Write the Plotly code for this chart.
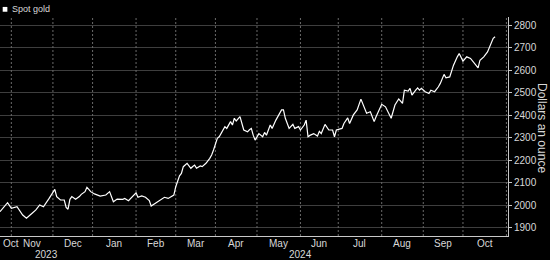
import pandas as pd
import plotly.graph_objects as go

# ---- data (spot gold, USD/oz) ----
dates = [
    "2023-10-24", "2023-10-30", "2023-11-01", "2023-11-03", "2023-11-06", "2023-11-09", "2023-11-13",
    "2023-11-16", "2023-11-20", "2023-11-22", "2023-11-24", "2023-11-29", "2023-11-30",
    "2023-12-01", "2023-12-04", "2023-12-05", "2023-12-07", "2023-12-11", "2023-12-12", "2023-12-13",
    "2023-12-14", "2023-12-15", "2023-12-19", "2023-12-21", "2023-12-22", "2023-12-26", "2023-12-27",
    "2023-12-28", "2023-12-29",
    "2024-01-02", "2024-01-05", "2024-01-10", "2024-01-12", "2024-01-16", "2024-01-18", "2024-01-23",
    "2024-01-24", "2024-01-26", "2024-01-30",
    "2024-02-01", "2024-02-02", "2024-02-06", "2024-02-08", "2024-02-12", "2024-02-13", "2024-02-15",
    "2024-02-20", "2024-02-22", "2024-02-26", "2024-02-29",
    "2024-03-01", "2024-03-04", "2024-03-05", "2024-03-06", "2024-03-07", "2024-03-11", "2024-03-13",
    "2024-03-14", "2024-03-15", "2024-03-18", "2024-03-20", "2024-03-21", "2024-03-25", "2024-03-27",
    "2024-03-28", "2024-03-29",
    "2024-04-02", "2024-04-03", "2024-04-04", "2024-04-05", "2024-04-08", "2024-04-09", "2024-04-11",
    "2024-04-12", "2024-04-15", "2024-04-16", "2024-04-18", "2024-04-22", "2024-04-24", "2024-04-25",
    "2024-04-26", "2024-04-29", "2024-04-30",
    "2024-05-02", "2024-05-06", "2024-05-07", "2024-05-08", "2024-05-10", "2024-05-13", "2024-05-15",
    "2024-05-16", "2024-05-20", "2024-05-21", "2024-05-22", "2024-05-24", "2024-05-28", "2024-05-29",
    "2024-05-31",
    "2024-06-03", "2024-06-05", "2024-06-06", "2024-06-07", "2024-06-10", "2024-06-12", "2024-06-14",
    "2024-06-17", "2024-06-18", "2024-06-20", "2024-06-24", "2024-06-26", "2024-06-27", "2024-06-28",
    "2024-07-03", "2024-07-04", "2024-07-08", "2024-07-09", "2024-07-11", "2024-07-15", "2024-07-17",
    "2024-07-18", "2024-07-22", "2024-07-24", "2024-07-26", "2024-07-29", "2024-07-31",
    "2024-08-01", "2024-08-05", "2024-08-07", "2024-08-08", "2024-08-12", "2024-08-14", "2024-08-15",
    "2024-08-16", "2024-08-19", "2024-08-21", "2024-08-22", "2024-08-23", "2024-08-27", "2024-08-28",
    "2024-08-29", "2024-08-30",
    "2024-09-03", "2024-09-05", "2024-09-06", "2024-09-10", "2024-09-12", "2024-09-13", "2024-09-17",
    "2024-09-18", "2024-09-20", "2024-09-24", "2024-09-26", "2024-09-27",
    "2024-10-01", "2024-10-03", "2024-10-07", "2024-10-09", "2024-10-11", "2024-10-14", "2024-10-16",
    "2024-10-18", "2024-10-22", "2024-10-23", "2024-10-24",
]
prices = [
    1971, 2011, 1986, 1991, 1993, 1956, 1942,
    1964, 1979, 2001, 1993, 2030, 2045,
    2060, 2070, 2038, 2023, 2023, 1990, 1982,
    2026, 2038, 2026, 2038, 2048, 2060, 2079,
    2070, 2060,
    2050, 2040, 2045, 2060, 2015, 2027, 2026,
    2030, 2020, 2038,
    2055, 2035, 2041, 2035, 2020, 1996, 2008,
    2023, 2035, 2030, 2045,
    2082, 2112, 2130, 2141, 2171, 2186, 2164,
    2172, 2178, 2164, 2174, 2171, 2186, 2208,
    2223, 2245,
    2297, 2304, 2320, 2334, 2349, 2341, 2371,
    2356, 2386, 2374, 2393, 2334, 2326, 2335,
    2341, 2311, 2289,
    2318, 2304, 2323, 2311, 2356, 2341, 2378,
    2393, 2423, 2423, 2386, 2341, 2359, 2341,
    2349,
    2334, 2356, 2378, 2304, 2310, 2318, 2307,
    2328, 2318, 2359, 2334, 2334, 2304, 2334,
    2341, 2363, 2388, 2363, 2401, 2423, 2471,
    2452, 2408, 2415, 2371, 2393, 2430,
    2448, 2437, 2401, 2386, 2445, 2472, 2462,
    2452, 2511, 2507, 2519, 2489, 2511, 2521,
    2511, 2519,
    2504, 2496, 2511, 2504, 2526, 2541, 2581,
    2566, 2570, 2622, 2659, 2674,
    2640, 2659, 2652, 2630, 2610, 2644, 2659,
    2681, 2718, 2741, 2748,
]
assert len(dates) == len(prices)

series_name = "Spot gold"
y_title = "Dollars an ounce"
y_ticks = [1900, 2000, 2100, 2200, 2300, 2400, 2500, 2600, 2700, 2800]
month_labels = ["Oct", "Nov", "Dec", "Jan", "Feb", "Mar", "Apr", "May", "Jun", "Jul", "Aug", "Sep", "Oct"]
month_starts = ["2023-10-01", "2023-11-01", "2023-12-01", "2024-01-01", "2024-02-01", "2024-03-01",
                "2024-04-01", "2024-05-01", "2024-06-01", "2024-07-01", "2024-08-01", "2024-09-01",
                "2024-10-01", "2024-11-01"]
year_labels = ["2023", "2024"]

x_start = pd.Timestamp("2023-10-24")
x_end = pd.Timestamp("2024-11-01 20:00")
y_range = [1863, 2836]

FONT = "Liberation Sans, Arial, sans-serif"
TXT = "#d8d8d8"
AXIS = "#c8c8c8"
HGRID = "#3e3e3e"
VGRID = "#6a6a6a"

PLOT_H = 260 - 17 - 24          # plot height in px
UNITS_PER_PX = (y_range[1] - y_range[0]) / PLOT_H


def visible_center(a, b):
    """centre (in trading-day space) of the visible weekdays in [a, b)"""
    a = max(pd.Timestamp(a), x_start)
    b = min(pd.Timestamp(b), x_end)
    days = pd.bdate_range(a.normalize(), (b - pd.Timedelta(seconds=1)).normalize())
    days = [d for d in days if d >= a.normalize()]
    n = len(days)
    c = days[n // 2]
    if n % 2 == 1:
        c = c + pd.Timedelta(hours=12)
    return c


first_bday = [pd.bdate_range(pd.Timestamp(m), periods=1)[0] for m in month_starts]
label_pos = [visible_center(month_starts[i], month_starts[i + 1]) for i in range(len(month_labels))]
grid_pos = [d for d in first_bday if x_start < d < x_end]
year_pos = [visible_center(x_start, "2024-01-01"), visible_center("2024-01-01", x_end)]


def segs(xs, y0, y1):
    gx, gy = [], []
    for d in xs:
        gx += [d, d, None]
        gy += [y0, y1, None]
    return gx, gy


fig = go.Figure()

# vertical month gridlines (dotted)
gx, gy = segs(grid_pos, y_range[0], y_range[1])
fig.add_trace(go.Scatter(x=gx, y=gy, mode="lines", hoverinfo="skip", showlegend=False,
                         line=dict(color=VGRID, width=1, dash="2px,2px")))
# small month ticks below the x axis
tx, ty = segs(grid_pos, y_range[0], y_range[0] - 3.5 * UNITS_PER_PX)
fig.add_trace(go.Scatter(x=tx, y=ty, mode="lines", hoverinfo="skip", showlegend=False,
                         cliponaxis=False, line=dict(color=AXIS, width=1)))
# year separator below the month labels
sx, sy = segs([pd.Timestamp("2024-01-01")], y_range[0] - 12 * UNITS_PER_PX,
              y_range[0] - 24 * UNITS_PER_PX)
fig.add_trace(go.Scatter(x=sx, y=sy, mode="lines", hoverinfo="skip", showlegend=False,
                         cliponaxis=False, line=dict(color="#8a8a8a", width=1)))

# price line
fig.add_trace(go.Scatter(
    x=pd.to_datetime(dates), y=prices, mode="lines",
    line=dict(color="#ffffff", width=1.2), name=series_name, showlegend=False,
))

fig.update_layout(
    width=550, height=260,
    margin=dict(l=0, r=42, t=17, b=24),
    paper_bgcolor="#000000", plot_bgcolor="#000000",
    font=dict(family=FONT, size=10, color=TXT),
    xaxis=dict(
        type="date",
        range=[x_start, x_end],
        rangebreaks=[dict(bounds=["sat", "mon"])],
        showticklabels=False, ticks="", showgrid=False, zeroline=False,
        showline=True, linecolor=AXIS, linewidth=1,
    ),
    yaxis=dict(
        side="right", range=y_range,
        tickmode="array", tickvals=y_ticks,
        ticks="outside", ticklen=3, tickcolor=AXIS,
        showline=True, linecolor=AXIS, linewidth=1,
        showgrid=True, gridcolor=HGRID, gridwidth=1,
        zeroline=False, tickfont=dict(size=10, color=TXT),
    ),
    showlegend=False,
)

# month labels
for i, (lbl, pos) in enumerate(zip(month_labels, label_pos)):
    if i == 0:
        fig.add_annotation(x=0.002, y=-0.034, xref="paper", yref="paper", text=lbl, showarrow=False,
                           xanchor="left", yanchor="middle", font=dict(size=10, color=TXT, family=FONT))
    else:
        fig.add_annotation(x=pos, y=-0.034, xref="x", yref="paper", text=lbl, showarrow=False,
                           xanchor="center", yanchor="middle", font=dict(size=10, color=TXT, family=FONT))

# year labels under month labels
for lbl, pos in zip(year_labels, year_pos):
    fig.add_annotation(x=pos, y=-0.086, xref="x", yref="paper", text=lbl, showarrow=False,
                       font=dict(size=10, color=TXT, family=FONT), xanchor="center", yanchor="middle")

# legend (square marker + name)
fig.add_shape(type="rect", xref="paper", yref="paper", x0=0.0053, x1=0.0145, y0=1.024, y1=1.046,
              fillcolor="#ffffff", line=dict(width=0))
fig.add_annotation(x=0.019, y=1.035, xref="paper", yref="paper", text=series_name, showarrow=False,
                   xanchor="left", yanchor="middle", font=dict(size=9, color=TXT, family=FONT))

# right axis title, reading top to bottom
fig.add_annotation(x=1.067, y=0.493, xref="paper", yref="paper", text=y_title, showarrow=False,
                   textangle=90, xanchor="center", yanchor="middle",
                   font=dict(size=12, color=TXT, family=FONT))

fig.write_html("out.html")
